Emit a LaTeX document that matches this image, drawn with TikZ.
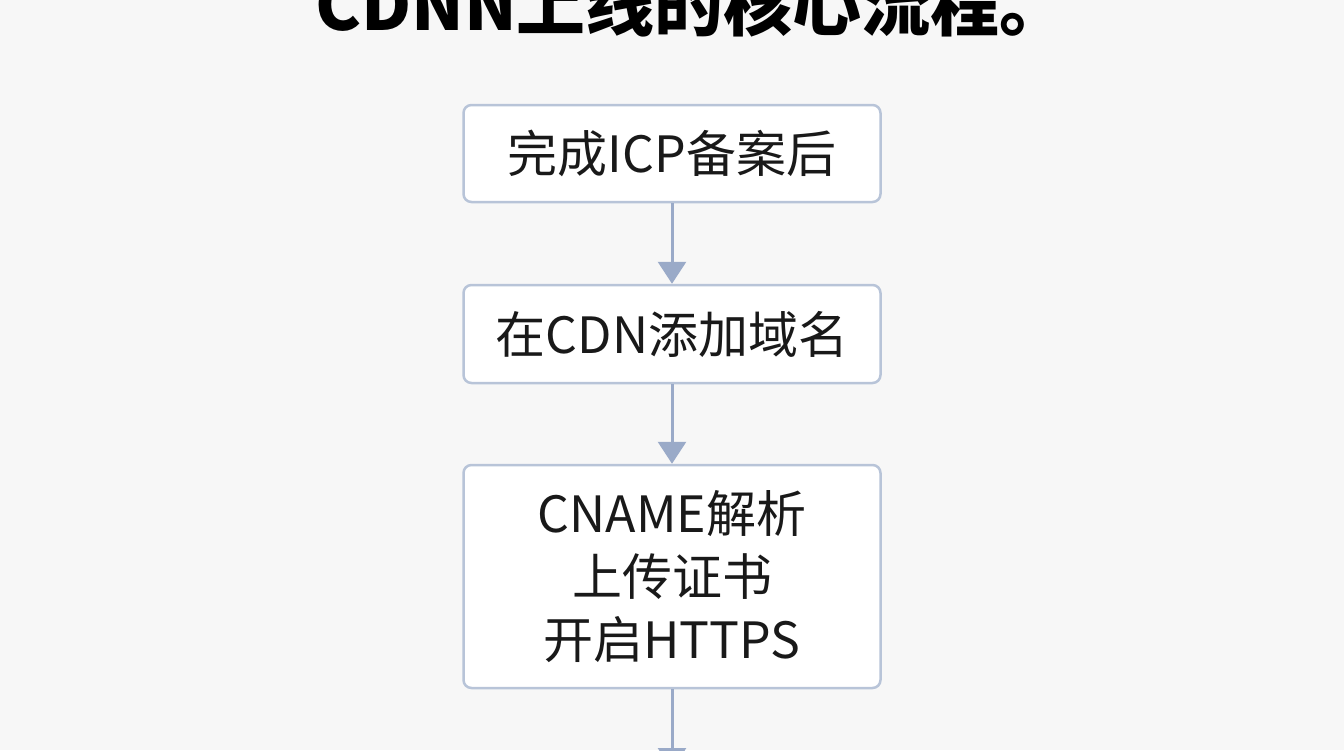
\documentclass[tikz,border=0pt]{standalone}
\usepackage{fontspec}
\setmainfont{Noto Sans CJK SC}
\usetikzlibrary{arrows.meta}
\definecolor{bg}{HTML}{F7F7F7}
\definecolor{bd}{HTML}{B8C4D8}
\definecolor{ar}{HTML}{9AAAC8}
\begin{document}
\begin{tikzpicture}[x=1pt,y=-1pt,
  box/.style={draw=bd,line width=2.5pt,fill=white,rounded corners=8pt,minimum width=417pt,align=center,font=\fontsize{50}{63}\selectfont,text=black!90,inner sep=0pt},
  arr/.style={draw=ar,line width=3pt,-{Triangle[length=22pt,width=28pt]}}]
\useasboundingbox (0,0) rectangle (1344,750);
\clip (0,0) rectangle (1344,750);
\fill[bg] (0,0) rectangle (1344,750);
\node[anchor=base,font=\fontsize{69}{69}\selectfont\bfseries] (title) at (692,30) {CDNN上线的核心流程。};
\node[box,minimum height=97pt] (b1) at (672,153.5) {完成ICP备案后};
\node[box,minimum height=98pt] (b2) at (672,334) {在CDN添加域名};
\node[box,minimum height=223pt] (b3) at (672,576.5) {CNAME解析\\上传证书\\开启HTTPS};
\coordinate (end) at (672,770);
\draw[arr] (b1) -- (b2);
\draw[arr] (b2) -- (b3);
\draw[arr] (b3) -- (end);
\end{tikzpicture}
\end{document}
